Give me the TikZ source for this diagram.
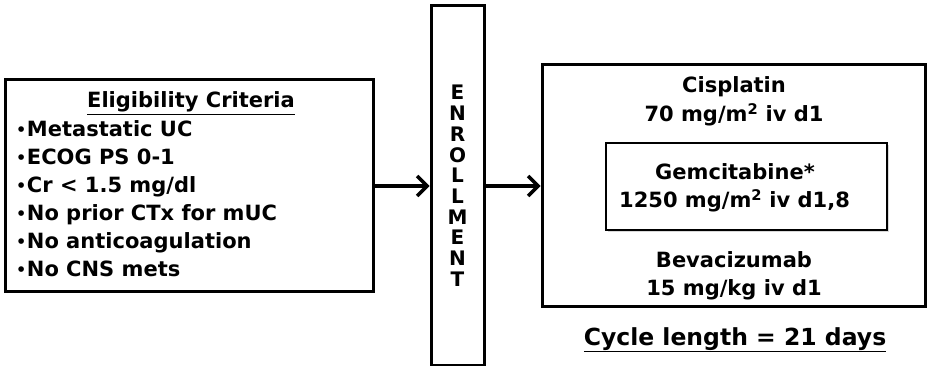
\documentclass[tikz,border=0pt]{standalone}
\usepackage{fontspec}
\setmainfont{DejaVu Sans}
\usetikzlibrary{arrows.meta, positioning, shadows}

\newcommand{\dotbullet}{\raisebox{1.5pt}{\fontsize{16}{16}\selectfont•}\hspace{0.5pt}}

\begin{document}
\begin{tikzpicture}[x=1pt, y=-1pt,
        font=\bfseries\fontsize{21}{28}\selectfont,
        box/.style={draw, line width=3pt, inner sep=0pt},
        arr/.style={line width=3.5pt, -{Straight Barb[length=10pt, width=20pt, line width=3.5pt]}},
        txt/.style={anchor=base, inner sep=0pt}]
    \useasboundingbox (0,0) rectangle (927,366);

    % left: criteria
    \node[box, minimum width=368pt, minimum height=212pt] (crit) at (189,186) {};
    \node[txt] (title) at (191,108) {\underline{Eligibility Criteria}};
    \foreach \t [count=\i] in {Metastatic UC, ECOG PS 0-1, Cr < 1.5 mg/dl,
        No prior CTx for mUC, No anticoagulation, No CNS mets}
        \node[txt, anchor=base west] (c\i) at (16, 109+28*\i) {\dotbullet\t};

    % middle: enrollment
    \node[box, minimum width=53pt, minimum height=359pt] (enrol) at (457.5,185.5) {};
    \foreach \l [count=\i] in {E,N,R,O,L,L,M,E,N,T}
        \node[txt, font=\bfseries\fontsize{20}{20}\selectfont] (e\i) at (457.5, 79.3+20.7*\i) {\l};

    % right: regimen
    \node[box, minimum width=383pt, minimum height=242pt] (regimen) at (733.5,186) {};
    \node[txt] (cis1) at (734,93) {Cisplatin};
    \node[txt] (cis2) at (734,122) {70 mg/m\textsuperscript{2} iv d1};
    \node[draw, line width=2.2pt, inner sep=0pt, minimum width=281pt, minimum height=87pt,
        drop shadow={shadow xshift=2pt, shadow yshift=-2pt, fill=black!30}, fill=white]
        (gem) at (746.5,186.5) {};
    \node[txt] (gem1) at (735,180) {Gemcitabine*};
    \node[txt] (gem2) at (734.5,208) {1250 mg/m\textsuperscript{2} iv d1,8};
    \node[txt] (bev1) at (734,268) {Bevacizumab};
    \node[txt] (bev2) at (734,295) {15 mg/kg iv d1};
    \node[txt, font=\bfseries\fontsize{23.5}{28}\selectfont] (cycle) at (735,345)
        {\underline{Cycle length = 21 days}};

    \draw[arr] (crit.east) -- (crit.east -| enrol.west);
    \draw[arr] (enrol.east |- regimen.west) -- (regimen.west);
\end{tikzpicture}
\end{document}
